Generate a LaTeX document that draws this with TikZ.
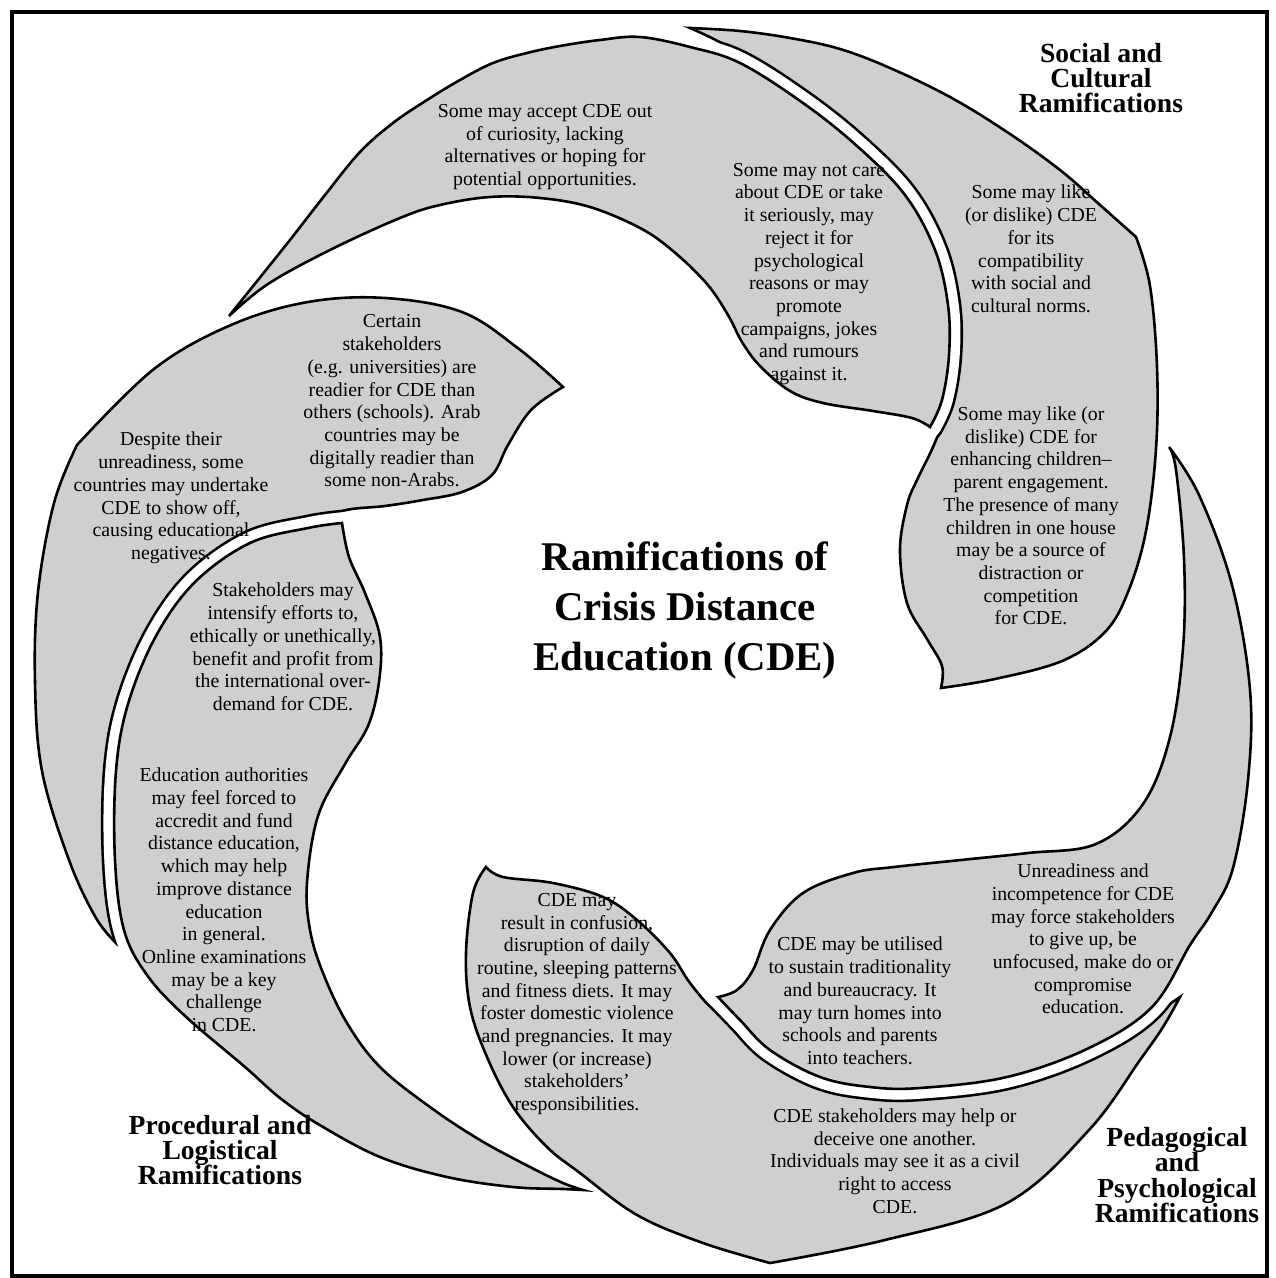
\documentclass[tikz,border=0pt]{standalone}
\usepackage{fontspec}
\setmainfont{Liberation Serif}
\definecolor{bladegray}{RGB}{207,207,207}
\begin{document}
\lineskiplimit=-100pt
\begin{tikzpicture}[x=0.5pt,y=-0.5pt,
  blade/.style={fill=bladegray, draw=black, line width=1.3pt},
  gapline/.style={draw=black, line width=13.3pt, line join=round, line cap=round},
  gapwhite/.style={draw=white, line width=10.7pt, line join=round, line cap=round},
  body/.style={align=center, inner sep=0pt, font=\fontsize{9.9}{11.35}\selectfont},
  cat/.style={align=center, inner sep=0pt, font=\fontsize{13.8}{12.6}\selectfont\bfseries},
  ttl/.style={align=center, inner sep=0pt, font=\fontsize{20.4}{25}\selectfont\bfseries}
]
\useasboundingbox (0,0) rectangle (1275,1278);

% ---------- blade outlines ----------
\def\bOne{plot[smooth,tension=0.6] coordinates {(229,316) (286,245) (325,195) (360,152) (393,123) (427,100) (460,80) (493,63) (527,53) (560,46) (600,40) (640,37) (690,47) (740,63) (803,103) (857,146) (905,195) (935,250) (948,305) (949,355) (942,400) (930,427)}
 -- plot[smooth,tension=0.6] coordinates {(930,427) (912,418) (873,411) (823,403) (790,391) (760,366) (742,342) (728,315) (707,284) (673,251) (640,228) (590,207) (540,198) (490,197) (440,205) (400,218) (330,250) (268,284) (229,316)} -- cycle}

\def\bTwo{plot[smooth,tension=0.6] coordinates {(690,28) (740,31) (790,38) (840,49) (890,68) (950,97) (1007,132) (1060,170) (1100,205) (1136,237)}
 -- plot[smooth,tension=0.6] coordinates {(1136,237) (1150,286) (1157,367) (1156,449) (1146,531) (1128,592) (1105,632) (1062,661) (995,679) (941,688)}
 -- plot[smooth,tension=0.6] coordinates {(941,688) (942,666) (927,639) (907,603) (900,550) (907,505) (917,480) (933,447) (945,415) (950,380) (950,355) (949,305) (936,250) (906,195) (858,146) (812,108) (770,74) (723,44) (690,28)} -- cycle}

\def\bThree{plot[smooth,tension=0.6] coordinates {(563,387) (519,349) (462,312) (385,298) (308,302) (231,325) (154,369) (77,445)}
 -- plot[smooth,tension=0.6] coordinates {(77,445) (54,503) (38,592) (35,682) (42,771) (69,860) (96,918) (118,945)}
 -- plot[smooth,tension=0.6] coordinates {(118,945) (124,930) (115,860) (116,771) (128,704) (156,636) (195,582) (250,543) (308,528) (342,511) (385,506) (423,500) (462,492) (492,475) (508,445) (531,410) (563,387)} -- cycle}

\def\bFour{plot[smooth,tension=0.6] coordinates {(342,523) (308,528) (250,543) (195,582) (156,636) (128,704) (116,771) (115,860) (124,930) (147,975) (184,1015) (245,1067) (280,1098) (318,1124) (380,1157) (447,1177) (513,1187) (563,1189) (583,1190)}
 -- plot[smooth,tension=0.6] coordinates {(583,1190) (563,1183) (530,1167) (480,1140) (430,1107) (380,1067) (347,1023) (323,973) (310,930) (307,883) (318,816) (345,764) (368,726) (379,682) (380,637) (365,593) (349,557) (342,523)} -- cycle}

\def\bFive{plot[smooth,tension=0.6] coordinates {(486,867) (473,893) (466,953) (470,1007) (487,1057) (513,1107) (547,1147) (580,1173) (637,1215) (703,1243) (770,1263)}
 -- plot[smooth,tension=0.6] coordinates {(770,1263) (885,1240) (1007,1203) (1089,1130) (1140,1060) (1163,1027) (1180,997)}
 -- plot[smooth,tension=0.6] coordinates {(1180,997) (1147,1018) (1089,1048) (1007,1077) (920,1088) (870,1087) (820,1077) (770,1050) (740,1022) (714,1010) (690,983) (670,953) (637,920) (603,897) (553,883) (503,877) (486,867)} -- cycle}

\def\bSix{plot[smooth,tension=0.6] coordinates {(718,997) (740,1020) (770,1050) (820,1077) (870,1087) (920,1088) (1007,1077) (1089,1048) (1152,1007) (1190,945) (1212,912) (1233,868) (1248,780) (1250,690) (1232,585) (1199,495) (1169,447)}
 -- plot[smooth,tension=0.6] coordinates {(1169,447) (1176,470) (1184,559) (1183,648) (1170,737) (1143,804) (1096,844) (1028,853) (961,860) (894,867) (853,873) (803,893) (770,930) (753,970) (737,990) (718,997)} -- cycle}

% ---------- pair: top ----------
\path[blade] \bTwo;
\begin{scope}\clip \bTwo; \draw[gapline] \bOne; \end{scope}
\begin{scope}\clip (600,0) rectangle (1010,445); \draw[gapwhite] \bOne; \end{scope}
\path[blade] \bOne;

% ---------- pair: left ----------
\path[blade] \bThree;
\begin{scope}\clip \bThree; \draw[gapline] \bFour; \end{scope}
\begin{scope}\clip (0,480) rectangle (420,1000); \draw[gapwhite] \bFour; \end{scope}
\path[blade] \bFour;

% ---------- pair: bottom ----------
\path[blade] \bFive;
\begin{scope}\clip \bFive; \draw[gapline] \bSix; \end{scope}
\begin{scope}\clip (690,940) rectangle (1240,1140); \draw[gapwhite] \bSix; \end{scope}
\path[blade] \bSix;

% ---------- texts ----------
\node[body] (t1) at (545,147) {Some may accept CDE out\\of curiosity, lacking\\alternatives or hoping for\\potential opportunities.};
\node[body] (t2) at (809,274) {Some may not care\\about CDE or take\\it seriously, may\\reject it for\\psychological\\reasons or may\\promote\\campaigns, jokes\\and rumours\\against it.};
\node[body] (t3) at (1031,249) {Some may like\\(or dislike) CDE\\for its\\compatibility\\with social and\\cultural norms.};
\node[body] (t4) at (1031,516) {Some may like (or\\dislike) CDE for\\enhancing children–\\parent engagement.\\The presence of many\\children in one house\\may be a source of\\distraction or\\competition\\for CDE.};
\node[body] (t5) at (392,401) {Certain\\stakeholders\\(e.g. universities) are\\readier for CDE than\\others (schools). Arab\\countries may be\\digitally readier than\\some non-Arabs.};
\node[body] (t6) at (171,498) {Despite their\\unreadiness, some\\countries may undertake\\CDE to show off,\\causing educational\\negatives.};
\node[body] (t7) at (283,647) {Stakeholders may\\intensify efforts to,\\ethically or unethically,\\benefit and profit from\\the international over-\\demand for CDE.};
\node[body] (t8) at (224,900) {Education authorities\\may feel forced to\\accredit and fund\\distance education,\\which may help\\improve distance\\education\\in general.\\Online examinations\\may be a key\\challenge\\in CDE.};
\node[body] (t9) at (577,1004) {CDE may\\result in confusion,\\disruption of daily\\routine, sleeping patterns\\and fitness diets. It may\\foster domestic violence\\and pregnancies. It may\\lower (or increase)\\stakeholders’\\responsibilities.};
\node[body] (t10) at (860,1001) {CDE may be utilised\\to sustain traditionality\\and bureaucracy. It\\may turn homes into\\schools and parents\\into teachers.};
\node[body] (t11) at (1083,939) {Unreadiness and\\incompetence for CDE\\may force stakeholders\\to give up, be\\unfocused, make do or\\compromise\\education.};
\node[body] (t12) at (895,1161) {CDE stakeholders may help or\\deceive one another.\\Individuals may see it as a civil\\right to access\\CDE.};

\node[cat] (l1) at (1101,78) {Social and\\Cultural\\Ramifications};
\node[cat] (l2) at (220,1150) {Procedural and\\Logistical\\Ramifications};
\node[cat] (l3) at (1177,1175) {Pedagogical\\and\\Psychological\\Ramifications};

\node[ttl] (title) at (685,610) {Ramifications of\\Crisis Distance\\Education (CDE)};

% ---------- frame ----------
\draw[line width=2pt] (12,12) rectangle (1267,1276);
\end{tikzpicture}
\end{document}
